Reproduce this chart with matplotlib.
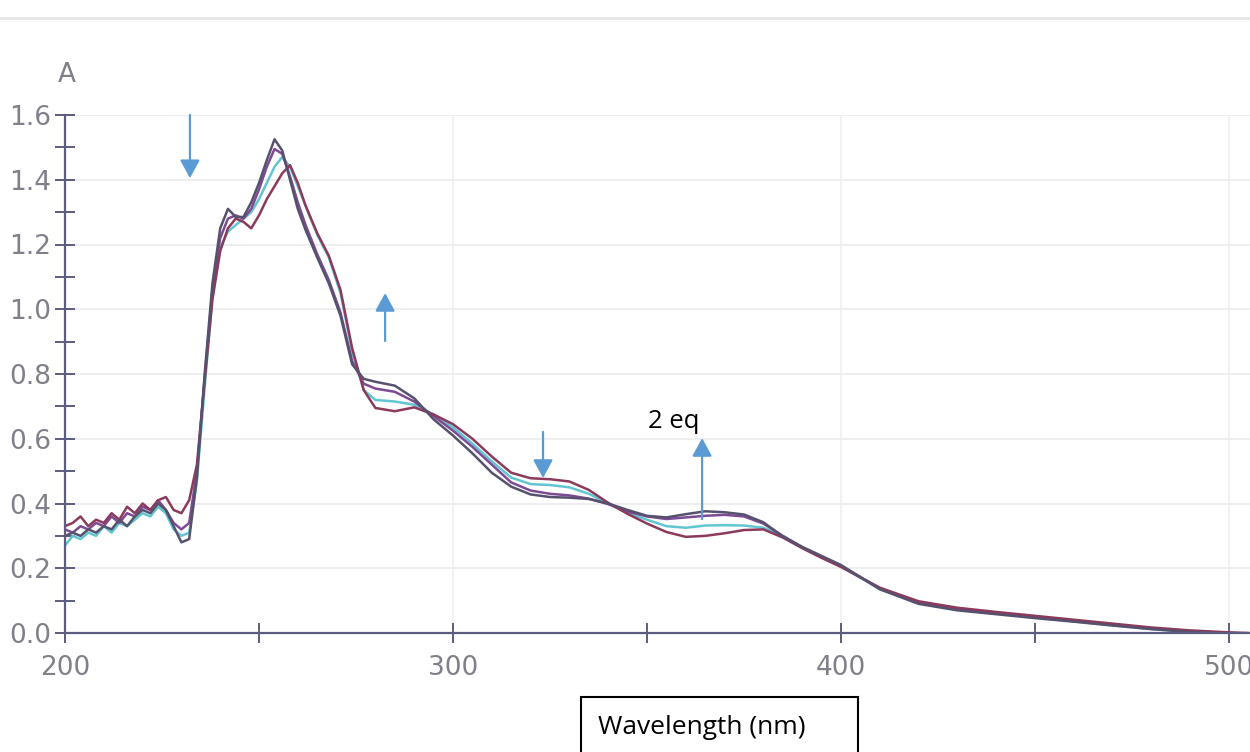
import matplotlib.pyplot as plt
from matplotlib.patches import Rectangle
from matplotlib.lines import Line2D
from matplotlib.ticker import MultipleLocator, FixedLocator

# Wavelength grid (nm), finer where the spectra change quickly
wavelength = [200, 202, 204, 206, 208, 210, 212, 214, 216, 218, 220, 222, 224, 226, 228, 230, 232,
              234, 236, 238, 240, 242, 244, 246, 248, 250, 252, 254, 256, 258, 260, 262,
              265, 268, 271, 274, 277, 280,
              285, 290, 295, 300, 305, 310, 315, 320, 325, 330, 335, 340, 345, 350, 355, 360,
              365, 370, 375, 380, 385, 390, 395, 400,
              410, 420, 430, 440, 450, 460, 470, 480, 490, 500, 505]

# Absorbance during the titration (0 eq -> 2 eq)
abs_start = [0.33, 0.34, 0.36, 0.33, 0.35, 0.34, 0.37, 0.35, 0.39, 0.37, 0.40, 0.38, 0.41, 0.42, 0.38, 0.37, 0.41,
             0.52, 0.78, 1.03, 1.18, 1.25, 1.28, 1.27, 1.25, 1.29, 1.34, 1.38, 1.42, 1.445, 1.39, 1.32,
             1.235, 1.165, 1.06, 0.88, 0.75, 0.695,
             0.685, 0.697, 0.675, 0.645, 0.60, 0.545, 0.495, 0.478, 0.475, 0.468, 0.442, 0.402, 0.368, 0.338,
             0.312, 0.297, 0.300, 0.308, 0.318, 0.320, 0.295, 0.262, 0.232, 0.204,
             0.14, 0.098, 0.078, 0.065, 0.053, 0.041, 0.029, 0.017, 0.008, 0.002, 0.0]
abs_mid1 = [0.27, 0.30, 0.29, 0.31, 0.30, 0.33, 0.31, 0.34, 0.33, 0.35, 0.37, 0.36, 0.39, 0.37, 0.32, 0.30, 0.31,
            0.47, 0.76, 1.04, 1.19, 1.24, 1.26, 1.28, 1.30, 1.34, 1.39, 1.44, 1.47, 1.44, 1.38, 1.32,
            1.23, 1.16, 1.05, 0.87, 0.75, 0.72,
            0.715, 0.705, 0.675, 0.635, 0.585, 0.53, 0.48, 0.46, 0.457, 0.45, 0.43, 0.40, 0.37, 0.35,
            0.33, 0.325, 0.332, 0.333, 0.332, 0.325, 0.30, 0.265, 0.235, 0.205,
            0.136, 0.092, 0.072, 0.06, 0.048, 0.036, 0.024, 0.012, 0.004, -0.001, -0.003]
abs_mid2 = [0.32, 0.31, 0.33, 0.32, 0.34, 0.33, 0.36, 0.34, 0.37, 0.36, 0.39, 0.38, 0.41, 0.38, 0.34, 0.32, 0.34,
            0.50, 0.79, 1.06, 1.22, 1.28, 1.29, 1.28, 1.31, 1.37, 1.44, 1.495, 1.48, 1.41, 1.33, 1.26,
            1.17, 1.09, 0.99, 0.84, 0.77, 0.755,
            0.745, 0.715, 0.67, 0.625, 0.575, 0.52, 0.465, 0.44, 0.43, 0.425, 0.415, 0.398, 0.375, 0.36,
            0.352, 0.357, 0.362, 0.365, 0.36, 0.338, 0.30, 0.265, 0.235, 0.207,
            0.138, 0.094, 0.074, 0.061, 0.05, 0.038, 0.026, 0.014, 0.005, 0.0, -0.002]
abs_end = [0.30, 0.31, 0.30, 0.32, 0.31, 0.33, 0.32, 0.35, 0.33, 0.36, 0.38, 0.37, 0.40, 0.38, 0.33, 0.28, 0.29,
           0.48, 0.80, 1.08, 1.25, 1.31, 1.285, 1.285, 1.33, 1.39, 1.46, 1.525, 1.49, 1.40, 1.31, 1.245,
           1.16, 1.08, 0.98, 0.83, 0.785, 0.776,
           0.764, 0.725, 0.66, 0.61, 0.555, 0.495, 0.452, 0.428, 0.42, 0.418, 0.414, 0.40, 0.38, 0.362,
           0.357, 0.367, 0.376, 0.373, 0.366, 0.342, 0.298, 0.266, 0.238, 0.21,
           0.135, 0.09, 0.07, 0.058, 0.046, 0.035, 0.023, 0.012, 0.003, -0.002, -0.004]

series = [abs_mid1, abs_mid2, abs_start, abs_end]
series_colors = ["#62c6d2", "#7d4a94", "#8c3a5c", "#56526e"]

# Change markers: (wavelength, tail absorbance, tip absorbance)
arrows = [(232.2, 1.60, 1.405), (282.5, 0.902, 1.05), (323.2, 0.621, 0.479), (364.2, 0.352, 0.602)]
arrow_color = "#5b9bd5"

x_ticks = [200, 300, 400, 500]
y_ticks = [0.0, 0.2, 0.4, 0.6, 0.8, 1.0, 1.2, 1.4, 1.6]

axis_color = "#5c5c80"
label_color = "#80808a"

fig = plt.figure(figsize=(12.5, 7.52), dpi=100)
ax = fig.add_axes([65 / 1250, 1 - 633 / 752, 1 - 65 / 1250, (633 - 115) / 752])
ax.set_xlim(200, 200 + (1250 - 65) / 3.88)
ax.set_ylim(0, 1.6)

# Faint grid
for y in y_ticks[1:]:
    ax.axhline(y, color="#ebebeb", lw=1.2, zorder=0)
for x in x_ticks[1:]:
    ax.axvline(x, color="#f0f0f0", lw=1.2, zorder=0)

for vals, col in zip(series, series_colors):
    ax.plot(wavelength, vals, color=col, lw=1.8, zorder=2)

for x, y0, y1 in arrows:
    ax.annotate("", xy=(x, y1), xytext=(x, y0),
                arrowprops=dict(arrowstyle="-|>,head_length=0.55,head_width=0.3",
                                color=arrow_color, lw=1.6, mutation_scale=20,
                                shrinkA=0, shrinkB=0), zorder=3)
ax.text(350.3, 0.652, "2 eq", fontsize=18.5, family="Open Sans", color="black",
        ha="left", va="center")

# Axes styling
for side in ("top", "right"):
    ax.spines[side].set_visible(False)
for side in ("left", "bottom"):
    ax.spines[side].set_color(axis_color)
    ax.spines[side].set_linewidth(1.6)

ax.xaxis.set_major_locator(FixedLocator(x_ticks))
ax.xaxis.set_minor_locator(FixedLocator([250, 350, 450]))
ax.yaxis.set_major_locator(FixedLocator(y_ticks))
ax.yaxis.set_minor_locator(MultipleLocator(0.1))
ax.set_xticklabels([str(v) for v in x_ticks])
ax.set_yticklabels([f"{v:.1f}" for v in y_ticks])
ax.tick_params(which="both", direction="inout", length=14, width=1.4, color=axis_color,
               labelcolor=label_color, labelsize=19)
ax.tick_params(axis="x", which="major", pad=9)
ax.tick_params(axis="y", which="major", pad=3)
for lab in ax.get_xticklabels() + ax.get_yticklabels():
    lab.set_family("DejaVu Sans")

fig.text(67 / 1250, 1 - 75 / 752, "A", fontsize=19, color=label_color,
         ha="center", va="center")

# Axis title in an outlined box below the plot
fig.patches.append(Rectangle((581 / 1250, -0.05), (858 - 581) / 1250, (0.05 + 55 / 752),
                             transform=fig.transFigure, fill=False, edgecolor="black", lw=1.5))
fig.text(598 / 1250, 1 - 727 / 752, "Wavelength (nm)", fontsize=19, family="Open Sans",
         color="black", ha="left", va="center")

# Scanner edge line across the top
fig.lines.append(Line2D([0, 1], [1 - 18 / 752] * 2, transform=fig.transFigure,
                        color="#e6e6e6", lw=2))

fig.savefig("out.png", dpi=100)
